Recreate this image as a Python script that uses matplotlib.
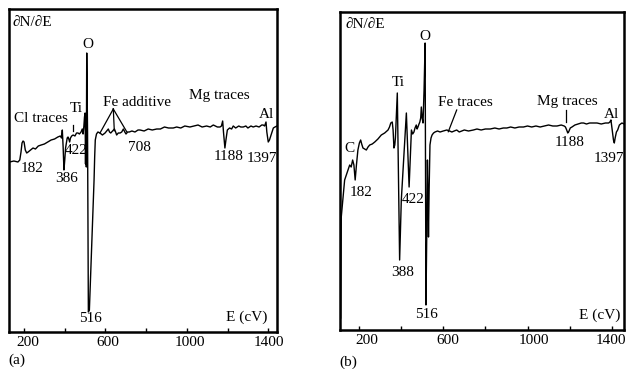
import matplotlib
matplotlib.use("Agg")
import matplotlib.pyplot as plt
import matplotlib.transforms as mtransforms
from matplotlib.lines import Line2D

plt.rcParams['font.family'] = ['Liberation Serif', 'DejaVu Serif']
plt.rcParams['mathtext.fontset'] = 'stix'

# ---- data (energy in eV, dN/dE in arbitrary units) ----
a_energy = [129, 150, 170, 179, 185, 190, 195, 200, 206, 213, 220, 232, 244, 256, 270,
            284, 300, 316, 333, 350, 366, 378, 384, 388, 392, 396, 400, 404, 408, 412,
            416, 420, 424, 428, 434, 441, 450, 458, 465, 472, 480, 486, 490, 494, 497,
            500, 502, 504, 506, 508, 512, 516, 521, 544, 547, 550, 556, 563, 573, 585,
            598, 606, 614, 620, 626, 635, 644, 650, 655, 663, 672, 680, 688, 695, 701,
            709, 717, 730, 745, 760, 770, 790, 810, 830, 852, 870, 890, 910, 933, 950,
            970, 990, 1015, 1035, 1055, 1075, 1097, 1115, 1130, 1150, 1163, 1170, 1176,
            1180, 1187, 1192, 1199, 1210, 1220, 1228, 1240, 1255, 1265, 1277, 1290, 1300,
            1315, 1326, 1340, 1355, 1368, 1375, 1382, 1389, 1393, 1400, 1406, 1412, 1417,
            1425, 1433, 1443]
a_signal = [170, 171, 170, 172, 180, 189, 191, 190, 182, 179, 180, 182, 184, 183, 186,
            187, 188, 190, 192, 193, 195, 196, 194, 202, 185, 162, 172, 184, 189, 194,
            195, 193, 190, 194, 196, 197, 196, 199, 199, 198, 200, 203, 198, 206, 215,
            219, 168, 216, 165, 279, 200, 20, 22, 152, 175, 192, 198, 200, 199, 197,
            199, 201, 203, 200, 199, 201, 203, 200, 197, 199, 199, 200, 203, 200, 198,
            200, 200, 201, 200, 202, 202, 201, 203, 202, 203, 203, 205, 204, 204, 205,
            204, 206, 205, 206, 207, 205, 206, 205, 207, 205, 205, 206, 211,
            200, 184, 192, 202, 204, 203, 206, 204, 206, 205, 205, 206, 204,
            206, 205, 206, 205, 207, 207, 206, 210, 200, 190, 192, 196, 199,
            204, 205, 206]

b_energy = [113, 116, 132, 148, 156, 163, 170, 176, 182, 188, 195, 202, 208, 213, 219,
            227, 235, 243, 251, 263, 275, 290, 306, 322, 338, 345, 351, 358, 362, 366,
            370, 373, 382, 393, 401, 425, 438, 449, 455, 461, 466, 472, 476, 480, 485,
            489, 493, 496, 500, 504, 509, 514, 518, 522, 525, 528, 530, 533, 537, 542,
            547, 554, 561, 573, 585, 600, 617, 630, 641, 652, 664, 676, 688, 700, 720,
            743, 760, 780, 800, 823, 845, 865, 885, 902, 920, 940, 960, 981, 1000, 1020,
            1040, 1060, 1080, 1100, 1120, 1140, 1160, 1174, 1180, 1186, 1191, 1195, 1203,
            1211, 1225, 1240, 1255, 1266, 1280, 1295, 1310, 1330, 1350, 1370, 1385, 1391,
            1396, 1402, 1408, 1412, 1416, 1422, 1428, 1436, 1448, 1459]
b_signal = [12, 113, 150, 160, 165, 163, 170, 165, 150, 165, 180, 187, 190, 186, 182,
            181, 180, 183, 185, 186, 188, 191, 195, 197, 200, 203, 207, 208, 200, 182,
            185, 192, 237, 70, 130, 217, 143, 200, 196, 198, 202, 205, 201, 203, 206,
            208, 212, 223, 212, 207, 240, 287, 25, 100, 170, 130, 93, 140, 185, 192,
            195, 197, 198, 199, 198, 199, 200, 199, 198, 199, 200, 198, 199, 200, 199,
            200, 201, 200, 201, 201, 202, 201, 202, 202, 203, 202, 203, 203, 204, 203,
            204, 203, 204, 205, 204, 204, 205, 204, 203, 200, 197, 198, 202,
            203, 205, 206, 207, 207, 206, 207, 207, 207, 206, 207, 207, 208,
            210, 200, 190, 187, 192, 198, 200, 205, 207, 206]

x_major = [200, 600, 1000, 1400]
x_minor = [400, 800, 1200]

W, H = 629, 369
fig = plt.figure(figsize=(W / 100, H / 100), dpi=100)


def box(left, top, right, bottom):
    return [left / W, 1 - bottom / H, (right - left) / W, (bottom - top) / H]


def put(s, x, y, ha='center', size=11):
    fig.text(x / W, 1 - y / H, s, ha=ha, va='center', fontsize=size)


def seg(xs, ys):
    fig.add_artist(Line2D([x / W for x in xs], [1 - y / H for y in ys],
                          transform=fig.transFigure, color='black', lw=0.9))


def setup(ax, xlim, ylim, shifts):
    ax.set_xlim(*xlim)
    ax.set_ylim(*ylim)
    ax.set_xticks(x_major)
    ax.set_xticks(x_minor, minor=True)
    ax.set_xticklabels([str(v) for v in x_major])
    ax.set_yticks([])
    ax.tick_params(axis='x', which='both', direction='in', length=3, width=1,
                   labelsize=11, pad=3)
    for sp in ax.spines.values():
        sp.set_linewidth(1.8)
    # printed labels sit a little right of their ticks
    for lab, dx in zip(ax.get_xticklabels(), shifts):
        off = mtransforms.ScaledTranslation(dx / 100, 0, fig.dpi_scale_trans)
        lab.set_transform(lab.get_transform() + off)


# ---- panel (a) ----
ax1 = fig.add_axes(box(9, 9, 277, 332))
ax1.plot(a_energy, a_signal, color='black', lw=1.0)
setup(ax1, (126, 1443), (0, 323), [4, 2, 3, 1])

put('∂N/∂E', 13, 22, ha='left')
put('O', 88, 45)
put('Cl traces', 41, 118)
put('Ti', 76, 109)
seg([72.7, 72.7], [125, 130.5])
put('Fe additive', 137, 103)
seg([113.3, 100], [109, 133])
seg([113.3, 114.3], [109, 130.7])
seg([113.3, 126.7], [109, 131.7])
put('Mg traces', 219, 95)
put('Al', 266, 115)
put('182', 32, 168)
put('386', 67, 179)
put('422', 76, 151)
put('708', 139, 147)
put('1188', 229, 157)
put('1397', 262, 159)
put('516', 90, 318)
put('E (cV)', 267, 317, ha='right')
put('(a)', 8, 360, ha='left')

# ---- panel (b) ----
ax2 = fig.add_axes(box(340, 12, 624, 330))
ax2.plot(b_energy, b_signal, color='black', lw=1.0)
setup(ax2, (110, 1458), (0, 318), [8, 5, 6, -1])

put('∂N/∂E', 345, 25, ha='left')
put('O', 425, 36)
put('Ti', 398, 83)
put('C', 349, 149)
put('Fe traces', 465, 102)
seg([456.7, 448.3], [110, 131.7])
put('Mg traces', 567.5, 102)
seg([565.7, 565.7], [110, 121.7])
put('Al', 611, 115)
put('182', 361, 192)
put('422', 413, 200)
put('388', 402.5, 272)
put('516', 427, 315)
put('1188', 570, 143)
put('1397', 609, 159)
put('E (cV)', 620, 315, ha='right')
put('(b)', 339, 362, ha='left')

fig.savefig('out.png', dpi=100)
